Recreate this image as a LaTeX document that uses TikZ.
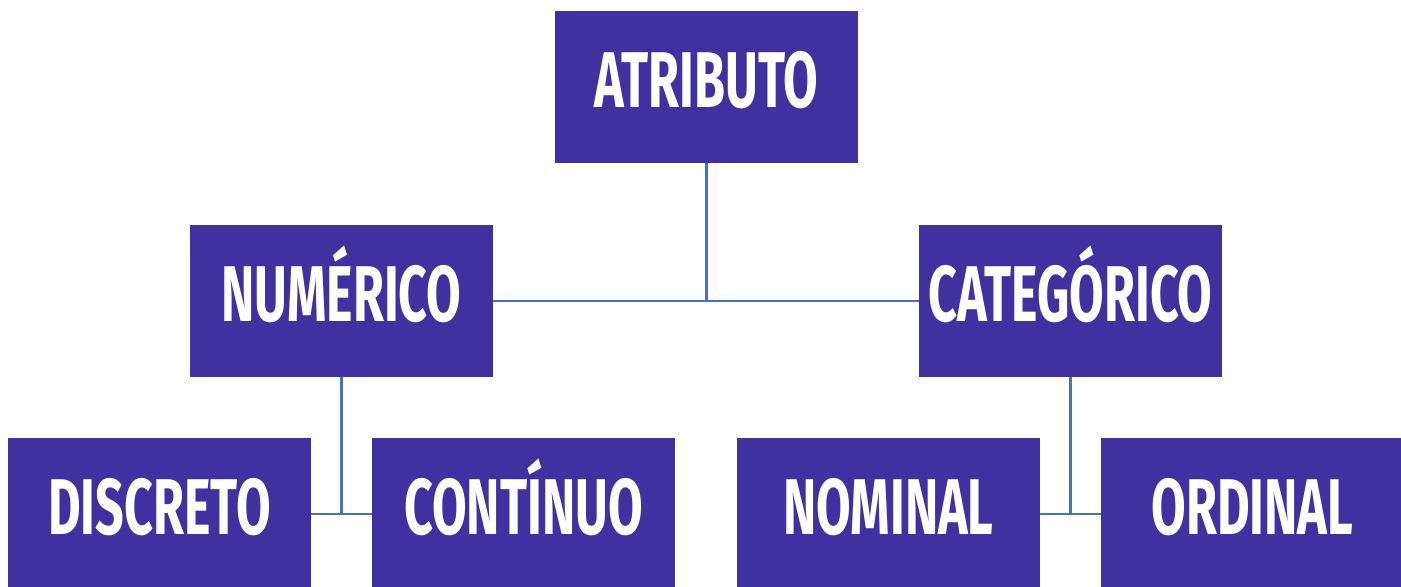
\documentclass[tikz,border=0pt]{standalone}
\usepackage{fontspec}
\newfontfamily\boxfont[FakeStretch=0.635]{Fira Sans}
\definecolor{boxpurple}{RGB}{64,48,160}
\definecolor{linkblue}{RGB}{68,114,196}
\tikzset{
  attr/.style={fill=boxpurple, text=white, minimum width=6.06cm, minimum height=3.04cm,
    inner sep=0pt, text height=1.1cm, text depth=0.26cm,
    font=\boxfont\bfseries\fontsize{45}{45}\selectfont},
  link/.style={draw=linkblue, line width=1.7pt}
}

\begin{document}
\begin{tikzpicture}[x=0.02cm,y=-0.02cm]
        \useasboundingbox (0,0) rectangle (1401,587);
        \clip (0,0) rectangle (1401,587);
        % Root
        \node[attr] (atributo) at (706.5,87) {ATRIBUTO};
        % Middle level
        \node[attr] (numerico) at (341.5,301) {NUMÉRICO};
        \node[attr] (categorico) at (1070.5,301) {CATEGÓRICO};
        % Leaves
        \node[attr] (discreto) at (159.5,514) {DISCRETO};
        \node[attr] (continuo) at (523.5,514) {CONTÍNUO};
        \node[attr] (nominal) at (888.5,514) {NOMINAL};
        \node[attr] (ordinal) at (1252.5,514) {ORDINAL};
        % Links
        \draw[link] (atributo.south) -- (atributo.south |- numerico.east);
        \draw[link] (numerico.east) -- (categorico.west);
        \draw[link] (numerico.south) -- (numerico.south |- discreto.east);
        \draw[link] (discreto.east) -- (continuo.west);
        \draw[link] (categorico.south) -- (categorico.south |- nominal.east);
        \draw[link] (nominal.east) -- (ordinal.west);
    \end{tikzpicture}
\end{document}
